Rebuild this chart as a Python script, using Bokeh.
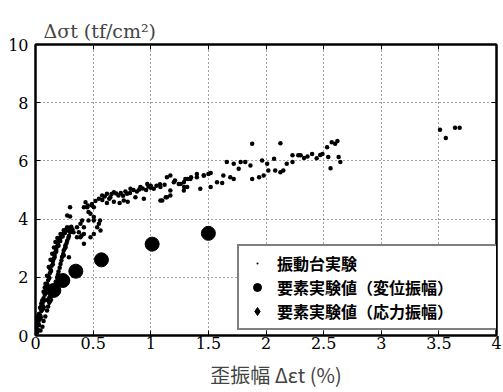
from bokeh.plotting import figure
from bokeh.models import Range1d, FixedTicker, LinearAxis, Legend, LegendItem
from bokeh.embed import file_html
from bokeh.resources import INLINE

x_ticks = [0, 0.5, 1, 1.5, 2, 2.5, 3, 3.5, 4]
y_ticks = [0, 2, 4, 6, 8, 10]

# 振動台実験 (shaking table test)
shake_x = [
    0.0, 0.01, 0.02, 0.03, 0.04, 0.05, 0.058, 0.07, 0.08, 0.087, 0.1, 0.115, 0.13, 0.145, 0.16, 0.173, 0.19, 0.217, 0.245, 0.275,
    0.02, 0.035, 0.05, 0.065, 0.08, 0.095, 0.11, 0.125, 0.14, 0.155, 0.17, 0.185, 0.2, 0.22, 0.24, 0.26, 0.29, 0.31,
    0.043, 0.07, 0.1, 0.12, 0.145, 0.165, 0.188, 0.2, 0.217, 0.23, 0.245, 0.26, 0.275, 0.29, 0.30, 0.32,
    0.01, 0.025, 0.04, 0.055, 0.07, 0.085, 0.1, 0.115, 0.13, 0.15, 0.165, 0.18, 0.195, 0.21, 0.23, 0.25, 0.27,
    0.015, 0.03, 0.045, 0.06, 0.075, 0.09, 0.105, 0.12, 0.135, 0.15, 0.165, 0.18, 0.2, 0.215, 0.235, 0.255, 0.28, 0.3,
    0.06, 0.085, 0.11, 0.13, 0.155, 0.175, 0.195, 0.21, 0.225, 0.24, 0.255, 0.27, 0.285,
    0.245, 0.29, 0.26,
    0.39, 0.42, 0.46, 0.506, 0.535, 0.477, 0.42, 0.506, 0.564, 0.55, 0.49, 0.30, 0.275, 0.376, 0.36, 0.40, 0.30, 0.405,
    0.434, 0.448, 0.49, 0.506, 0.42, 0.46, 0.506, 0.56, 0.33, 0.42, 0.454, 0.477, 0.36, 0.39,
    0.55, 0.578, 0.62, 0.65, 0.68, 0.72, 0.766, 0.795, 0.824, 0.867, 0.91, 0.94, 0.97, 1.026, 1.084, 1.10, 1.14, 1.17,
    1.2, 1.243, 1.30, 1.316,
    0.52, 0.58, 0.6, 0.64, 0.66, 0.7, 0.74, 0.76, 0.78, 0.82, 0.85, 0.88, 0.9, 0.93, 0.96, 0.98, 1.0, 1.05, 1.08, 1.12,
    0.62, 0.68, 0.73, 0.8,
    1.0, 1.084, 1.13, 1.17, 1.17, 1.14, 1.21, 1.26, 1.29, 1.32, 1.35, 1.43, 1.40, 1.46, 1.50, 1.52,
    1.287, 1.344, 1.40, 1.46, 1.52, 1.287, 1.575, 1.62, 1.63, 1.69, 1.72, 1.66, 1.72, 1.763, 1.78, 1.82, 1.865, 1.88,
    1.94, 1.98, 1.966, 2.01, 2.07, 2.02, 2.08, 2.125, 2.15, 2.18, 2.23, 2.23, 2.28, 2.36, 1.88, 2.125,
    2.30, 2.40, 2.44, 2.49, 2.53, 2.57, 2.60, 2.62, 2.54, 2.63, 2.645, 2.56, 2.33, 2.47,
    3.51, 3.56, 3.64, 3.68,
]
shake_y = [
    0.05, 0.3, 0.5, 0.74, 0.95, 1.1, 1.2, 1.5, 1.65, 1.78, 2.05, 2.35, 2.6, 2.81, 3.02, 3.21, 3.35, 3.49, 3.62, 3.72,
    0.2, 0.55, 0.85, 1.15, 1.4, 1.65, 1.9, 2.15, 2.4, 2.62, 2.85, 3.05, 3.22, 3.38, 3.5, 3.6, 3.68, 3.74,
    0.17, 0.5, 0.86, 1.15, 1.43, 1.7, 2.0, 2.2, 2.46, 2.7, 2.92, 3.1, 3.26, 3.42, 3.55, 3.65,
    0.15, 0.42, 0.7, 0.98, 1.28, 1.52, 1.78, 2.02, 2.28, 2.55, 2.75, 2.95, 3.12, 3.3, 3.45, 3.56, 3.66,
    0.1, 0.35, 0.62, 0.9, 1.2, 1.45, 1.72, 1.98, 2.22, 2.45, 2.68, 2.88, 3.08, 3.25, 3.4, 3.52, 3.62, 3.7,
    0.3, 0.65, 1.0, 1.3, 1.58, 1.85, 2.1, 2.33, 2.58, 2.8, 3.0, 3.18, 3.35,
    2.75, 2.69, 3.03,
    3.84, 3.72, 3.95, 4.07, 3.72, 3.38, 3.15, 3.49, 3.61, 3.84, 4.47, 4.41, 4.12, 3.55, 3.38, 3.44, 4.09, 3.95,
    4.58, 4.41, 4.52, 4.41, 4.41, 4.24, 3.95, 3.95, 3.55, 3.49, 4.47, 4.18, 3.72, 3.38,
    4.70, 4.81, 4.87, 4.75, 4.92, 4.81, 4.64, 4.87, 5.04, 4.75, 5.10, 4.70, 5.21, 5.04, 5.10, 4.64, 4.75, 5.50,
    5.27, 5.21, 5.38, 5.10,
    4.62, 4.66, 4.78, 4.70, 4.86, 4.88, 4.90, 4.80, 4.95, 4.90, 5.00, 4.95, 5.02, 5.05, 5.00, 5.12, 5.08, 5.15, 5.20, 5.18,
    4.55, 4.60, 4.55, 4.60,
    5.15, 4.64, 4.75, 4.81, 4.98, 5.44, 5.33, 5.21, 5.10, 5.38, 5.44, 5.04, 5.55, 5.50, 5.55, 5.10,
    5.27, 5.38, 5.44, 5.50, 5.58, 4.98, 5.27, 5.24, 5.50, 5.44, 5.38, 5.96, 5.90, 5.73, 5.96, 5.96, 5.84, 5.38,
    5.44, 5.50, 6.01, 5.90, 6.07, 5.67, 5.67, 5.61, 5.67, 5.90, 5.96, 6.19, 6.19, 6.15, 6.59, 6.61,
    6.19, 6.24, 6.09, 6.24, 6.47, 6.64, 6.59, 6.68, 6.13, 6.13, 5.96, 5.75, 6.10, 6.20,
    7.07, 6.79, 7.14, 7.14,
]

# 要素実験値（変位振幅）
disp_x = [0.159, 0.237, 0.35, 0.572, 1.012, 1.50]
disp_y = [1.55, 1.89, 2.21, 2.60, 3.14, 3.51]

# 要素実験値（応力振幅）
stress_x = [0.03, 0.058, 0.12]
stress_y = [0.62, 0.97, 1.22]

SERIF = "DejaVu Serif"
CJK = "Noto Sans CJK JP"

p = figure(width=503, height=392, output_backend="svg", toolbar_location=None,
           x_range=Range1d(0, 4), y_range=Range1d(0, 10),
           min_border_left=35, min_border_right=7, min_border_top=44, min_border_bottom=57,
           title="Δσt (tf/cm²)")
p.background_fill_color = "white"
p.border_fill_color = "white"
p.outline_line_color = "black"
p.outline_line_width = 2

p.title.text_font = SERIF
p.title.text_font_size = "19px"
p.title.text_font_style = "normal"
p.title.align = "left"
p.title.offset = 8
p.title.standoff = 6

for ax, ticks in ((p.xaxis[0], x_ticks), (p.yaxis[0], y_ticks)):
    ax.ticker = FixedTicker(ticks=ticks)
    ax.major_label_text_font = SERIF
    ax.major_label_text_font_size = "16px"
    ax.major_label_text_color = "black"
    ax.major_tick_in = 5
    ax.major_tick_out = 0
    ax.minor_tick_line_color = None
    ax.axis_line_width = 2
    ax.axis_line_color = "black"
    ax.major_tick_line_color = "black"

p.xaxis[0].major_label_overrides = {0: "0", 0.5: "0.5", 1: "1", 1.5: "1.5", 2: "2", 2.5: "2.5", 3: "3", 3.5: "3.5", 4: "4"}
p.xaxis[0].major_label_standoff = 1
p.xaxis[0].axis_label = "\u3000歪振幅 Δεt (%)"
p.xaxis[0].axis_label_text_font = CJK
p.xaxis[0].axis_label_text_font_size = "20px"
p.xaxis[0].axis_label_text_font_style = "normal"
p.xaxis[0].axis_label_standoff = 8
p.yaxis[0].major_label_standoff = 7

for loc, ticks in (("right", y_ticks), ("above", x_ticks)):
    a = LinearAxis(ticker=FixedTicker(ticks=ticks),
                   major_label_overrides={t: "" for t in ticks},
                   major_label_standoff=0, major_tick_in=5, major_tick_out=0,
                   minor_tick_line_color=None, axis_line_color="black", axis_line_width=2)
    p.add_layout(a, loc)

p.xgrid.ticker = FixedTicker(ticks=x_ticks)
p.ygrid.ticker = FixedTicker(ticks=y_ticks)
p.grid.grid_line_color = "#444444"
p.grid.grid_line_dash = "1 3"
p.grid.grid_line_width = 1

r_shake = p.scatter(shake_x, shake_y, size=18, color="black", marker="dot")
r_disp = p.scatter(disp_x, disp_y, size=14, color="black", marker="circle")
r_stress = p.scatter(stress_x, stress_y, size=11, color="black", marker="diamond")

legend = Legend(items=[
    LegendItem(label="振動台実験", renderers=[r_shake]),
    LegendItem(label="要素実験値（変位振幅）", renderers=[r_disp]),
    LegendItem(label="要素実験値（応力振幅）", renderers=[r_stress]),
], location=(202, 5))
legend.label_text_font = CJK
legend.label_text_font_size = "16px"
legend.label_text_font_style = "bold"
legend.label_text_color = "black"
legend.border_line_color = "black"
legend.border_line_width = 2
legend.background_fill_color = "white"
legend.background_fill_alpha = 1
legend.padding = 5
legend.spacing = 0
legend.glyph_width = 26
legend.glyph_height = 20
legend.label_height = 18
legend.label_standoff = 7
legend.label_width = 219
legend.margin = 0
p.add_layout(legend, "center")

open("out.html", "w").write(file_html(p, INLINE))
